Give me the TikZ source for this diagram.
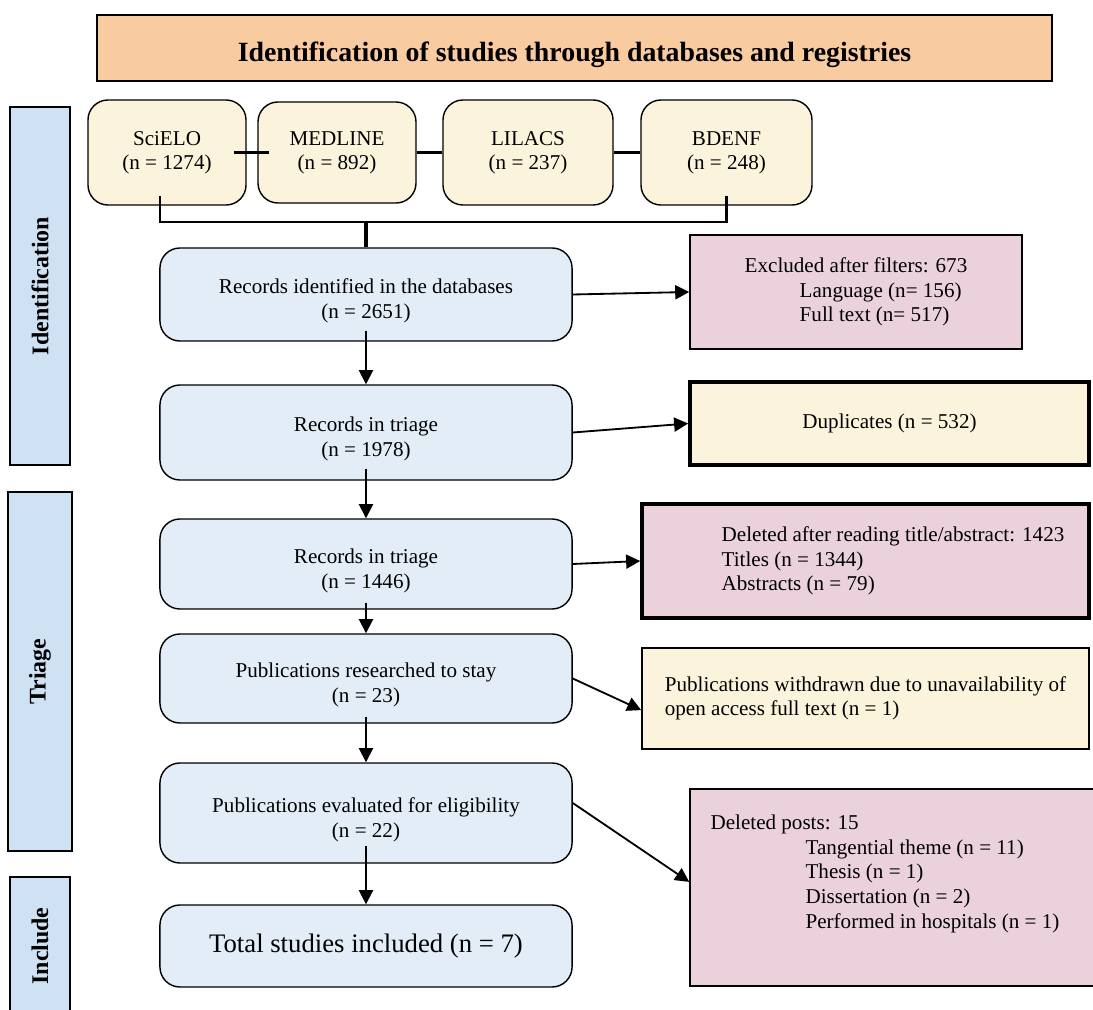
\documentclass[tikz,border=0pt]{standalone}
\usepackage{fontspec}
\setmainfont{Liberation Serif}
\usetikzlibrary{arrows.meta}

\definecolor{headfill}{HTML}{F8CBA0}
\definecolor{sidefill}{HTML}{CFE2F3}
\definecolor{dbfill}{HTML}{FBF3DC}
\definecolor{stepfill}{HTML}{E2EDF8}
\definecolor{pinkfill}{HTML}{EAD1DC}

\begin{document}
\begin{tikzpicture}[x=0.025cm,y=-0.025cm,
                    lowtext/.style={text height=37.5pt, text depth=3.3pt}]
        \useasboundingbox (0,0) rectangle (1093,1010);

        \node[draw, line width=1pt, fill=headfill, minimum width=23.875cm, minimum height=1.65cm,
              text height=23.7pt, text depth=4.3pt,
              font=\bfseries\fontsize{19.8}{22}\selectfont] (head) at (574.5,48)
              {Identification of studies through databases and registries};

        \begin{scope}[every node/.style={draw, line width=1pt, fill=sidefill, rotate=90,
                      minimum height=1.5cm, font=\bfseries\fontsize{17}{20}\selectfont}]
          \node[minimum width=8.95cm]                       (ident)  at (40,286)   {Identification};
          \node[minimum width=8.975cm, minimum height=1.6cm] (triage) at (40,671.5) {Triage};
          \node[minimum width=3.45cm]                       (incl)   at (40,946)   {Include};
        \end{scope}

        \begin{scope}[every node/.style={draw, line width=1pt, rounded corners=0.5cm, fill=dbfill,
                      align=center, minimum height=2.625cm, font=\fontsize{15}{17}\selectfont}]
          \node[minimum width=3.95cm]                         (scielo)  at (167,152.5)   {SciELO\\(n = 1274)};
          \node[minimum width=3.95cm, minimum height=2.525cm] (medline) at (337,152.5)   {MEDLINE\\(n = 892)};
          \node[minimum width=4.25cm]                         (lilacs)  at (528,152.5)   {LILACS\\(n = 237)};
          \node[minimum width=4.275cm]                        (bdenf)   at (726.5,152.5) {BDENF\\(n = 248)};
        \end{scope}

        \begin{scope}[every node/.style={draw, line width=1pt, rounded corners=0.5cm, fill=stepfill,
                      align=center, minimum width=10.3cm, font=\fontsize{15}{17.5}\selectfont}]
          \node[lowtext, minimum height=2.325cm] (rec1)  at (366,294.5) {Records identified in the databases\\(n = 2651)};
          \node[lowtext, minimum height=2.375cm] (rec2)  at (366,432.5) {Records in triage\\(n = 1978)};
          \node[lowtext, minimum height=2.25cm]  (rec3)  at (366,564)   {Records in triage\\(n = 1446)};
          \node[lowtext, minimum height=2.225cm] (rec4)  at (366,678.5) {Publications researched to stay\\(n = 23)};
          \node[lowtext, minimum height=2.5cm]   (rec5)  at (366,813)   {Publications evaluated for eligibility\\(n = 22)};
          \node[minimum height=2.05cm, font=\fontsize{19}{22}\selectfont]
                                                 (total) at (366,946)   {Total studies included (n = 7)};
        \end{scope}

        \begin{scope}[every node/.style={draw, line width=1pt, align=left, font=\fontsize{15}{17.5}\selectfont}]
          \node[fill=pinkfill, minimum width=8.3cm, minimum height=2.85cm] (filt) at (856,292)
                {Excluded after filters: 673\\\hspace*{1.375cm}Language (n= 156)\\\hspace*{1.375cm}Full text (n= 517)};
          \node[fill=dbfill, line width=2.5pt, minimum width=9.975cm, minimum height=2.075cm] (dupl) at (889.5,423.5)
                {Duplicates (n = 532)};
          \node[fill=pinkfill, line width=2.5pt, minimum width=11.175cm, minimum height=2.85cm] (title) at (865.5,561)
                {Deleted after reading title/abstract: 1423\hspace*{-1.375cm}\\Titles (n = 1344)\\Abstracts (n = 79)};
          \node[fill=dbfill, minimum width=11.175cm, minimum height=2.525cm] (withdr) at (865.5,698.5)
                {Publications withdrawn due to unavailability of\\open access full text (n = 1)};
          \node[fill=pinkfill, minimum width=10.25cm, minimum height=4.925cm] (posts) at (895,887.5)
                {Deleted posts: 15\\\hspace*{2.375cm}Tangential theme (n = 11)\\\hspace*{2.375cm}Thesis (n = 1)\\
                 \hspace*{2.375cm}Dissertation (n = 2)\\\hspace*{2.375cm}Performed in hospitals (n = 1)\kern0.5cm\\\strut};
        \end{scope}

        % database links
        \begin{scope}[line width=2pt]
          \draw ([xshift=-.325cm]scielo.east) -- ([xshift=.3cm]medline.west);
          \draw (medline) -- (lilacs);
          \draw (lilacs) -- (bdenf);
        \end{scope}

        \coordinate (merge) at (366,222);
        \draw[line width=1.3pt] ([xshift=-.175cm,yshift=.25cm]scielo.south) |- (merge);
        \draw[line width=2pt] ([yshift=.25cm]bdenf.south) |- (merge);
        \draw[line width=2.2pt] (merge) -- (rec1);

        \begin{scope}[every edge/.style={draw, line width=1.3pt, -{Triangle[length=10pt,width=10pt]}}]
          \path ([yshift=.275cm]rec1.south) edge (rec2);
          \path ([yshift=.3cm]rec2.south)   edge (rec3);
          \path ([yshift=.175cm]rec3.south) edge (rec4);
          \path ([yshift=.175cm]rec4.south) edge (rec5);
          \path ([yshift=.45cm]rec5.south)  edge (total);
          \path (rec1.east) edge (filt.west);
          \path (rec2.east) edge (dupl.west);
          \path (rec3.east) edge (title.west);
          \path (rec4.east) edge ([yshift=-.29cm]withdr.west);
          \path ([yshift=.25cm]rec5.east) edge ([yshift=.14cm]posts.west);
        \end{scope}

      \end{tikzpicture}
\end{document}
